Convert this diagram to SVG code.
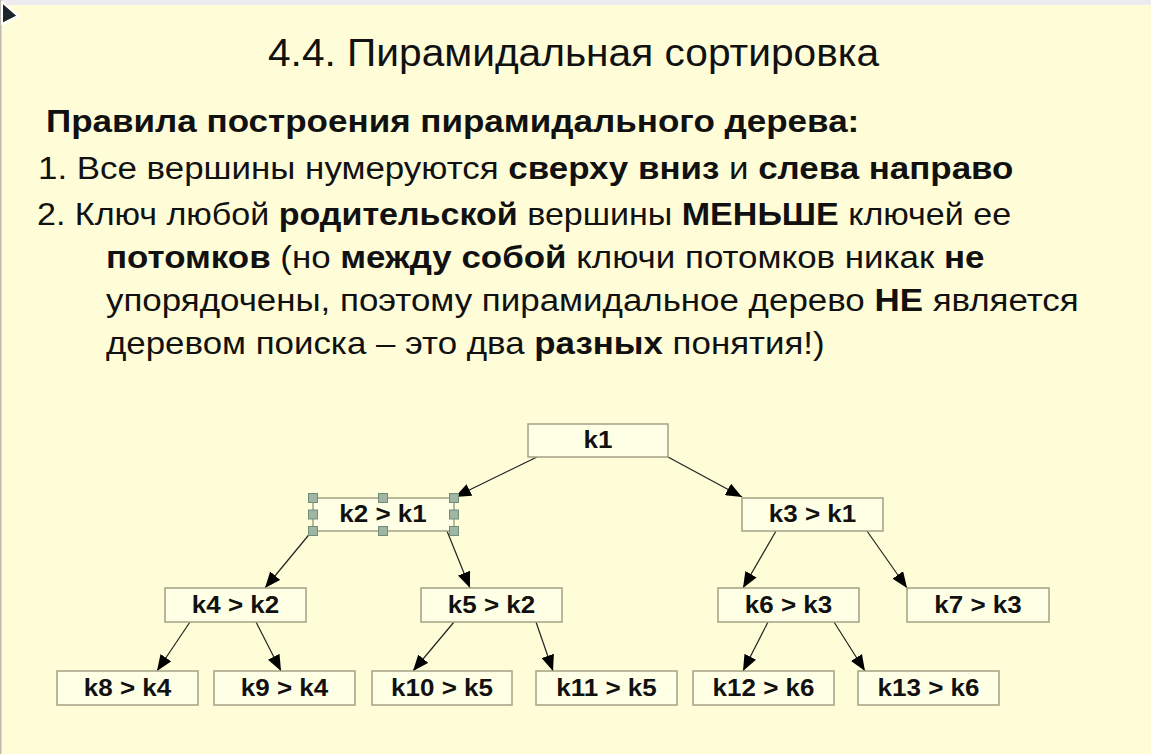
<svg xmlns="http://www.w3.org/2000/svg" width="1151" height="754" viewBox="0 0 1151 754">
<style>
.bg{fill:#FFFDD8}
.t{font-family:"Liberation Sans",Arial,sans-serif;fill:#111}
.b{font-weight:bold}
.node rect{fill:#FFFFE6;stroke:#A3A184;stroke-width:1.5}
.node text{font-family:"Liberation Sans",Arial,sans-serif;font-weight:bold;font-size:23px;fill:#111;text-anchor:middle}
.edge{stroke:#222;stroke-width:1.2;fill:none;marker-end:url(#arr)}
.node rect.h{fill:#9FB6A4;stroke:#6F8D79;stroke-width:1}
</style>
<defs>
<marker id="arr" markerUnits="userSpaceOnUse" markerWidth="17" markerHeight="13" refX="16" refY="6.5" orient="auto">
<path d="M0,0 L16,6.5 L0,13 Z" fill="#000"/>
</marker>
</defs>
<rect class="bg" x="0" y="0" width="1151" height="754"/>
<rect x="0" y="0" width="1151" height="5" fill="#EEEBEE"/>
<rect x="0" y="0" width="1.5" height="754" fill="#BDBBB0"/>
<polygon points="2,2 18,16 2,24" fill="#1F242B" stroke="#FFFFFF" stroke-width="2" stroke-linejoin="round"/>

<text class="t" transform="translate(268,66) scale(1.07,1)" font-size="38">4.4. Пирамидальная сортировка</text>
<text class="t b" transform="translate(46,132) scale(1.13,1)" font-size="31">Правила построения пирамидального дерева:</text>
<text class="t" transform="translate(38,179) scale(1.126,1)" font-size="31">1. Все вершины нумеруются <tspan class="b">сверху вниз</tspan> и <tspan class="b">слева направо</tspan></text>
<text class="t" transform="translate(37,225) scale(1.098,1)" font-size="31">2. Ключ любой <tspan class="b">родительской</tspan> вершины <tspan class="b">МЕНЬШЕ</tspan> ключей ее</text>
<text class="t" transform="translate(106,268) scale(1.126,1)" font-size="31"><tspan class="b">потомков</tspan> (но <tspan class="b">между собой</tspan> ключи потомков никак <tspan class="b">не</tspan></text>
<text class="t" transform="translate(106,311) scale(1.126,1)" font-size="31">упорядочены, поэтому пирамидальное дерево <tspan class="b">НЕ</tspan> является</text>
<text class="t" transform="translate(106,354) scale(1.125,1)" font-size="31">деревом поиска – это два <tspan class="b">разных</tspan> понятия!)</text>

<g id="connectors">
<line class="edge" x1="537" y1="457" x2="455" y2="497"/>
<line class="edge" x1="668" y1="457" x2="742" y2="497"/>
<line class="edge" x1="312" y1="531" x2="265" y2="588"/>
<line class="edge" x1="447" y1="531" x2="470" y2="588"/>
<line class="edge" x1="776" y1="531" x2="743" y2="588"/>
<line class="edge" x1="867" y1="531" x2="907" y2="588"/>
<line class="edge" x1="190" y1="622" x2="157" y2="671"/>
<line class="edge" x1="256" y1="622" x2="281" y2="671"/>
<line class="edge" x1="454" y1="622" x2="413" y2="671"/>
<line class="edge" x1="536" y1="622" x2="553" y2="671"/>
<line class="edge" x1="768" y1="622" x2="743" y2="671"/>
<line class="edge" x1="834" y1="622" x2="865" y2="671"/>
</g>

<g id="k1" class="node"><rect x="528" y="424" width="140" height="33"/><text transform="translate(598,448) scale(1.13,1)">k1</text></g>
<g id="k2" class="node"><rect x="313" y="498" width="141" height="33"/><text transform="translate(383,522) scale(1.13,1)">k2 &gt; k1</text>
<g id="k2-handles">
<rect class="h" x="308.5" y="493.5" width="9" height="9"/>
<rect class="h" x="378.5" y="493.5" width="9" height="9"/>
<rect class="h" x="449.5" y="493.5" width="9" height="9"/>
<rect class="h" x="308.5" y="510" width="9" height="9"/>
<rect class="h" x="449.5" y="510" width="9" height="9"/>
<rect class="h" x="308.5" y="526.5" width="9" height="9"/>
<rect class="h" x="378.5" y="526.5" width="9" height="9"/>
<rect class="h" x="449.5" y="526.5" width="9" height="9"/>
</g></g>
<g id="k3" class="node"><rect x="742" y="498" width="141" height="33"/><text transform="translate(812.5,522) scale(1.13,1)">k3 &gt; k1</text></g>
<g id="k4" class="node"><rect x="165" y="588" width="141" height="34"/><text transform="translate(235.5,613) scale(1.13,1)">k4 &gt; k2</text></g>
<g id="k5" class="node"><rect x="421" y="588" width="141" height="34"/><text transform="translate(491.5,613) scale(1.13,1)">k5 &gt; k2</text></g>
<g id="k6" class="node"><rect x="718" y="588" width="141" height="34"/><text transform="translate(788.5,613) scale(1.13,1)">k6 &gt; k3</text></g>
<g id="k7" class="node"><rect x="907" y="588" width="142" height="34"/><text transform="translate(978,613) scale(1.13,1)">k7 &gt; k3</text></g>
<g id="k8" class="node"><rect x="57" y="671" width="141" height="34"/><text transform="translate(127.5,696) scale(1.13,1)">k8 &gt; k4</text></g>
<g id="k9" class="node"><rect x="214" y="671" width="141" height="34"/><text transform="translate(284.5,696) scale(1.13,1)">k9 &gt; k4</text></g>
<g id="k10" class="node"><rect x="372" y="671" width="140" height="34"/><text transform="translate(442,696) scale(1.13,1)">k10 &gt; k5</text></g>
<g id="k11" class="node"><rect x="536" y="671" width="141" height="34"/><text transform="translate(606.5,696) scale(1.13,1)">k11 &gt; k5</text></g>
<g id="k12" class="node"><rect x="693" y="671" width="141" height="34"/><text transform="translate(763.5,696) scale(1.13,1)">k12 &gt; k6</text></g>
<g id="k13" class="node"><rect x="858" y="671" width="141" height="34"/><text transform="translate(928.5,696) scale(1.13,1)">k13 &gt; k6</text></g>
</svg>
